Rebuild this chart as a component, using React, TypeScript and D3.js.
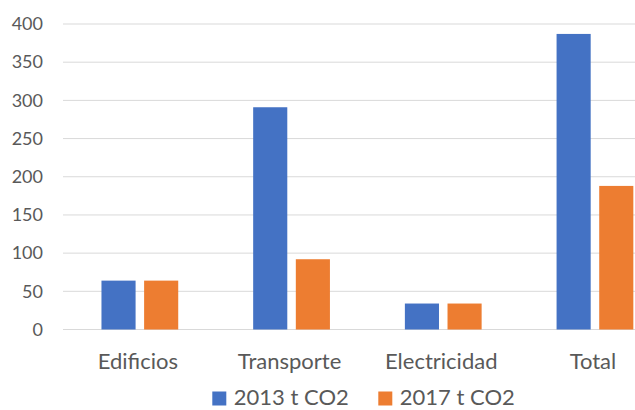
import { useEffect, useRef } from "react";
import * as d3 from "d3";

const categories = ["Edificios", "Transporte", "Electricidad", "Total"];
const seriesNames = ["2013 t CO2", "2017 t CO2"];
const values2013 = [64, 291, 34, 387];
const values2017 = [64, 92, 34, 188];
const yTicks = [0, 50, 100, 150, 200, 250, 300, 350, 400];
const colors = ["#4472C4", "#ED7D31"];

const W = 635;
const H = 410;
const FONT = "Lato, 'Open Sans', sans-serif";

export default function App() {
  const ref = useRef<SVGSVGElement>(null);

  useEffect(() => {
    if (!ref.current) return;
    const svg = d3.select(ref.current);
    svg.selectAll("*").remove();

    const step = 151.7;
    const left = 64;
    const x0 = d3.scaleBand<string>()
      .domain(categories)
      .range([left, left + step * categories.length])
      .paddingInner(0.494)
      .paddingOuter(0.247);
    const x1 = d3.scaleBand<string>()
      .domain(seriesNames)
      .range([0, x0.bandwidth()])
      .paddingInner(0.2);
    const y = d3.scaleLinear().domain([0, 400]).range([329.5, 24]);

    // grid lines
    svg.append("g")
      .selectAll("line")
      .data(yTicks)
      .enter()
      .append("line")
      .attr("x1", 63)
      .attr("x2", W)
      .attr("y1", d => y(d))
      .attr("y2", d => y(d))
      .attr("stroke", "#D9D9D9")
      .attr("stroke-width", 1);

    // y labels
    svg.append("g")
      .selectAll("text")
      .data(yTicks)
      .enter()
      .append("text")
      .attr("x", 43)
      .attr("y", d => y(d))
      .attr("dy", "0.35em")
      .attr("text-anchor", "end")
      .attr("fill", "#595959")
      .attr("font-family", FONT)
      .attr("font-size", "18px")
      .text(d => String(d));

    // bars
    const series = [values2013, values2017];
    const rows = categories.map((c, i) => ({
      cat: c,
      vals: seriesNames.map((s, j) => ({ s, v: series[j][i], j })),
    }));
    const groups = svg.append("g")
      .selectAll("g")
      .data(rows)
      .enter()
      .append("g")
      .attr("transform", d => `translate(${x0(d.cat)},0)`);
    groups.selectAll("rect")
      .data(d => d.vals)
      .enter()
      .append("rect")
      .attr("x", d => x1(d.s) as number)
      .attr("y", d => y(d.v))
      .attr("width", x1.bandwidth())
      .attr("height", d => y(0) - y(d.v))
      .attr("fill", d => colors[d.j]);

    // category labels
    svg.append("g")
      .selectAll("text")
      .data(categories)
      .enter()
      .append("text")
      .attr("x", d => (x0(d) as number) + x0.bandwidth() / 2 - 2)
      .attr("y", 369)
      .attr("text-anchor", "middle")
      .attr("fill", "#595959")
      .attr("font-family", FONT)
      .attr("font-size", "22px")
      .text(d => d);

    // legend (sits right at the bottom edge, as in the reference)
    const legendX = [212.3, 378.3];
    const lg = svg.append("g")
      .selectAll("g")
      .data(seriesNames)
      .enter()
      .append("g")
      .attr("transform", (d, i) => `translate(${legendX[i]},391.5)`);
    lg.append("rect")
      .attr("width", 14)
      .attr("height", 14)
      .attr("fill", (d, i) => colors[i]);
    lg.append("text")
      .attr("x", 21.5)
      .attr("y", 13.5)
      .attr("fill", "#595959")
      .attr("font-family", FONT)
      .attr("font-size", "22px")
      .text(d => d);
  }, []);

  return (
    <svg
      ref={ref}
      width={W}
      height={H}
      style={{ position: "absolute", left: 0, top: 0, background: "#fff" }}
    />
  );
}
